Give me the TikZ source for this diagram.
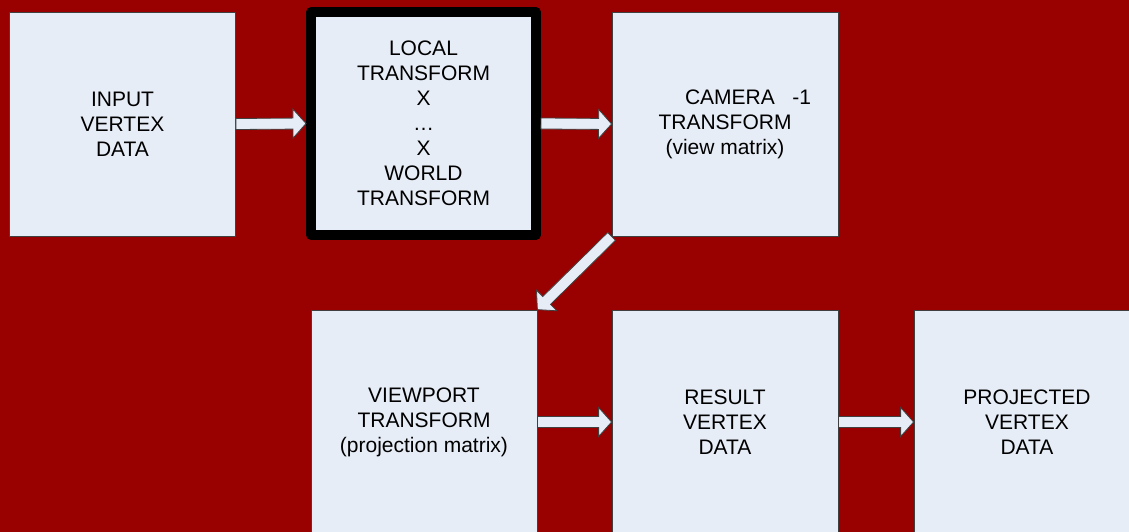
\documentclass[tikz,border=0pt]{standalone}
\usepackage{fontspec}
\setmainfont{Liberation Sans}
\usetikzlibrary{calc}
\definecolor{bgred}{HTML}{990000}
\definecolor{boxfill}{HTML}{E7EDF7}
\definecolor{boxline}{HTML}{404040}
\tikzset{
  box/.style={draw=boxline, line width=0.8pt, fill=boxfill, minimum width=226pt,
    minimum height=224pt, inner sep=0pt, align=center,
    font=\fontsize{21}{25}\selectfont},
  thickbox/.style={box, draw=black, line width=10pt, line join=round,
    minimum width=225pt, minimum height=223pt},
  blockarrow/.style={draw=boxline, line width=0.8pt, fill=boxfill, line join=miter}
}
\newcommand\barrow[2]{%
  \coordinate (bh) at ($(#2)!13pt!(#1)$);
  \filldraw[blockarrow] ($(#1)!5.5pt!90:(#2)$) -- ($(bh)!5.5pt!90:(#2)$)
    -- ($(bh)!14.5pt!90:(#2)$) -- (#2) -- ($(bh)!14.5pt!-90:(#2)$)
    -- ($(bh)!5.5pt!-90:(#2)$) -- ($(#1)!5.5pt!-90:(#2)$) -- cycle;
}
\begin{document}
\begin{tikzpicture}[x=1pt,y=-1pt]
  \useasboundingbox (0,0) rectangle (1129,532);
  \fill[bgred] (0,0) rectangle (1129,532);

  \node[box] (input) at (122.5,124) {INPUT\\VERTEX\\DATA};
  \node[thickbox] (local) at (423.5,123.5)
    {LOCAL\\TRANSFORM\\X\\…\\X\\WORLD\\TRANSFORM};
  \node[box] (camera) at (725,124)
    {\hspace*{46pt}CAMERA\hspace*{17.5pt}-1\\TRANSFORM\\(view matrix)};
  \node[box] (viewport) at (424,422)
    {VIEWPORT\\TRANSFORM\\(projection matrix)};
  \node[box] (result) at (725,422) {RESULT\\VERTEX\\DATA};
  \node[box] (projected) at (1027,422) {PROJECTED\\VERTEX\\DATA};

  \barrow{input.east}{local.west}
  \barrow{local.east}{camera.west}
  \barrow{camera.south west}{viewport.north east}
  \barrow{viewport.east}{result.west}
  \barrow{result.east}{projected.west}
\end{tikzpicture}
\end{document}
